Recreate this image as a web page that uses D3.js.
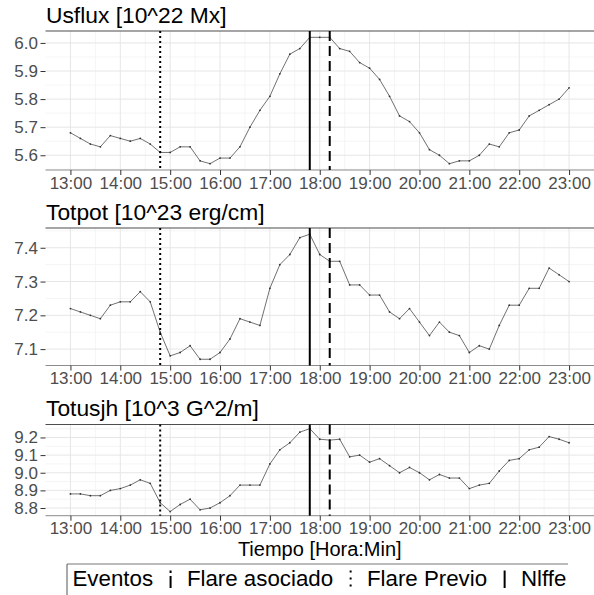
<!DOCTYPE html>
<html><head><meta charset="utf-8">
<script src="https://cdn.jsdelivr.net/npm/d3@7"></script>
<style>
body{margin:0;background:#fff}
svg{display:block}
text{font-family:"Liberation Sans", Arial, sans-serif}
</style>
</head><body>
<svg id="c" width="594" height="595"></svg>
<script>
const times = ["13:00","13:12","13:24","13:36","13:48","14:00","14:12","14:24","14:36","14:48",
"15:00","15:12","15:24","15:36","15:48","16:00","16:12","16:24","16:36","16:48",
"17:00","17:12","17:24","17:36","17:48","18:00","18:12","18:24","18:36","18:48",
"19:00","19:12","19:24","19:36","19:48","20:00","20:12","20:24","20:36","20:48",
"21:00","21:12","21:24","21:36","21:48","22:00","22:12","22:24","22:36","22:48","23:00"];
const usflux = [5.68,5.66,5.64,5.63,5.67, 5.66,5.65,5.66,5.64,5.61, 5.61,5.63,5.63,5.58,5.57,
5.59,5.59,5.63,5.70,5.76, 5.81,5.89,5.96,5.98,6.02, 6.02,6.02,5.98,5.97,5.93,
5.91,5.87,5.81,5.74,5.72, 5.68,5.62,5.60,5.57,5.58, 5.58,5.60,5.64,5.63,5.68,
5.69,5.74,5.76,5.78,5.80, 5.84];
const totpot = [7.22,7.21,7.20,7.19,7.23, 7.24,7.24,7.27,7.24,7.15, 7.08,7.09,7.11,7.07,7.07,
7.09,7.13,7.19,7.18,7.17, 7.28,7.35,7.38,7.43,7.44, 7.38,7.36,7.36,7.29,7.29,
7.26,7.26,7.21,7.19,7.22, 7.18,7.14,7.18,7.15,7.14, 7.09,7.11,7.10,7.17,7.23,
7.23,7.28,7.28,7.34,7.32, 7.30];
const totusjh = [8.88,8.88,8.87,8.87,8.90, 8.91,8.93,8.96,8.94,8.83, 8.78,8.82,8.85,8.79,8.80,
8.83,8.87,8.93,8.93,8.93, 9.05,9.13,9.17,9.23,9.25, 9.19,9.185,9.19,9.09,9.10,
9.06,9.08,9.04,9.00,9.03, 9.00,8.96,8.99,8.97,8.97, 8.91,8.93,8.94,9.01,9.07,
9.08,9.13,9.145,9.205,9.19, 9.17];
const xTickLabels = ["13:00","14:00","15:00","16:00","17:00","18:00","19:00","20:00","21:00","22:00","23:00"];
const usfluxTicks = [5.6,5.7,5.8,5.9,6.0];
const totpotTicks = [7.1,7.2,7.3,7.4];
const totusjhTicks = [8.8,8.9,9.0,9.1,9.2];
const panelTitles = ["Usflux [10^22 Mx]","Totpot [10^23 erg/cm]","Totusjh [10^3 G^2/m]"];
const eventTimes = ["14:48","17:48","18:12"];
const eventTypes = ["Flare Previo","Nlffe","Flare asociado"];
const legendOrder = ["Flare asociado","Flare Previo","Nlffe"];
const legendTitle = "Eventos";
const xTitle = "Tiempo [Hora:Min]";

const styles = {
  "Flare asociado": {dash:"10,5", width:2},
  "Flare Previo": {dash:"2,3", width:2},
  "Nlffe": {dash:null, width:2}
};

const toH = s => { const [h,m] = s.split(":").map(Number); return h + m/60; };

const svg = d3.select("#c");
const x = d3.scaleLinear().domain([12.5, 23.5]).range([45.5, 594]);

const panels = [
  {vals: usflux, ticks: usfluxTicks, top: 31, bottom: 170},
  {vals: totpot, ticks: totpotTicks, top: 228, bottom: 365.5},
  {vals: totusjh, ticks: totusjhTicks, top: 424.5, bottom: 515.7}
];

const hourTicks = xTickLabels.map(toH);

panels.forEach((p, pi) => {
  const ext = d3.extent(p.vals);
  const pad = (ext[1]-ext[0]) * 0.05;
  const y = d3.scaleLinear().domain([ext[0]-pad, ext[1]+pad]).range([p.bottom, p.top]);
  const g = svg.append("g");
  const x0 = x.range()[0], x1 = x.range()[1];
  const step = p.ticks[1]-p.ticks[0];
  const minorY = [];
  for (let k = -1; k < p.ticks.length; k++) {
    const v = p.ticks[0] + (k+0.5)*step;
    if (v > y.domain()[0] && v < y.domain()[1]) minorY.push(v);
  }
  g.selectAll(".mny").data(minorY).join("line")
    .attr("x1", x0).attr("x2", x1).attr("y1", d=>y(d)).attr("y2", d=>y(d))
    .attr("stroke", "#f2f2f2").attr("stroke-width", 0.8);
  const minorX = hourTicks.slice(0,-1).map(h => h+0.5);
  g.selectAll(".mnx").data(minorX).join("line")
    .attr("x1", d=>x(d)).attr("x2", d=>x(d)).attr("y1", p.top).attr("y2", p.bottom)
    .attr("stroke", "#f2f2f2").attr("stroke-width", 0.8);
  g.selectAll(".mjy").data(p.ticks).join("line")
    .attr("x1", x0).attr("x2", x1).attr("y1", d=>y(d)).attr("y2", d=>y(d))
    .attr("stroke", "#e6e6e6").attr("stroke-width", 1);
  g.selectAll(".mjx").data(hourTicks).join("line")
    .attr("x1", d=>x(d)).attr("x2", d=>x(d)).attr("y1", p.top).attr("y2", p.bottom)
    .attr("stroke", "#e6e6e6").attr("stroke-width", 1);

  g.append("line").attr("x1", x0).attr("x2", x1).attr("y1", p.top).attr("y2", p.top)
    .attr("stroke", "#4d4d4d").attr("stroke-width", 1.2);
  g.append("line").attr("x1", x0).attr("x2", x1).attr("y1", p.bottom).attr("y2", p.bottom)
    .attr("stroke", "#8c8c8c").attr("stroke-width", 1);

  const pts = p.vals.map((v,i) => [toH(times[i]), v]);
  g.append("path").datum(pts)
    .attr("d", d3.line().x(d=>x(d[0])).y(d=>y(d[1])))
    .attr("fill", "none").attr("stroke", "#333").attr("stroke-width", 0.7);
  g.selectAll(".pt").data(pts).join("circle")
    .attr("cx", d=>x(d[0])).attr("cy", d=>y(d[1])).attr("r", 0.9).attr("fill", "#333");

  eventTimes.forEach((t, ei) => {
    const st = styles[eventTypes[ei]];
    const ln = g.append("line").attr("x1", x(toH(t))).attr("x2", x(toH(t)))
      .attr("y1", p.top).attr("y2", p.bottom)
      .attr("stroke", "#000").attr("stroke-width", st.width);
    if (st.dash) ln.attr("stroke-dasharray", st.dash);
  });

  const ya = g.append("g").attr("transform", `translate(${x0},0)`)
    .call(d3.axisLeft(y).tickValues(p.ticks).tickSize(5).tickPadding(2.5).tickFormat(d3.format(".1f")));
  ya.select(".domain").remove();
  ya.selectAll("line").attr("stroke", "#333");
  ya.selectAll("text").attr("font-size", 17).attr("fill", "#4d4d4d")
    .style("font-family", '"Liberation Sans", Arial, sans-serif');

  const xa = g.append("g").attr("transform", `translate(0,${p.bottom})`)
    .call(d3.axisBottom(x).tickValues(hourTicks).tickSize(5).tickPadding(1.5).tickFormat((d,i)=>xTickLabels[i]));
  xa.select(".domain").remove();
  xa.selectAll("line").attr("stroke", "#333");
  xa.selectAll("text").attr("font-size", 17).attr("fill", "#4d4d4d")
    .style("font-family", '"Liberation Sans", Arial, sans-serif');

  svg.append("text").attr("x", 46).attr("y", p.top - 8.5).attr("font-size", 22.8)
    .attr("fill", "#000").text(panelTitles[pi]);
});

svg.append("text").attr("x", (x.range()[0]+x.range()[1])/2).attr("y", 555.5)
  .attr("text-anchor", "middle").attr("font-size", 20).attr("fill", "#000").text(xTitle);

const lg = svg.append("g");
lg.append("line").attr("x1", 67).attr("x2", 568).attr("y1", 564).attr("y2", 564)
  .attr("stroke", "#777").attr("stroke-width", 1);
lg.append("line").attr("x1", 67).attr("x2", 67).attr("y1", 564).attr("y2", 595)
  .attr("stroke", "#555").attr("stroke-width", 1);
const lt = lg.append("text").attr("x", 72.5).attr("y", 585.5).attr("font-size", 22.3).attr("fill", "#000").text(legendTitle);
let cx = 72.5 + lt.node().getComputedTextLength();
legendOrder.forEach(name => {
  const kx = cx + 17.5;
  const st = styles[name];
  const k = lg.append("line").attr("x1", kx).attr("x2", kx).attr("y1", 570.5).attr("y2", 588)
    .attr("stroke", "#000").attr("stroke-width", st.width);
  if (st.dash) k.attr("stroke-dasharray", name === "Flare asociado" ? "2.5,3,12" : "2,5");
  const t = lg.append("text").attr("x", kx + 16.3).attr("y", 585.5).attr("font-size", 22.3).attr("fill", "#000").text(name);
  cx = kx + 16.3 + t.node().getComputedTextLength();
});
</script>
</body></html>
